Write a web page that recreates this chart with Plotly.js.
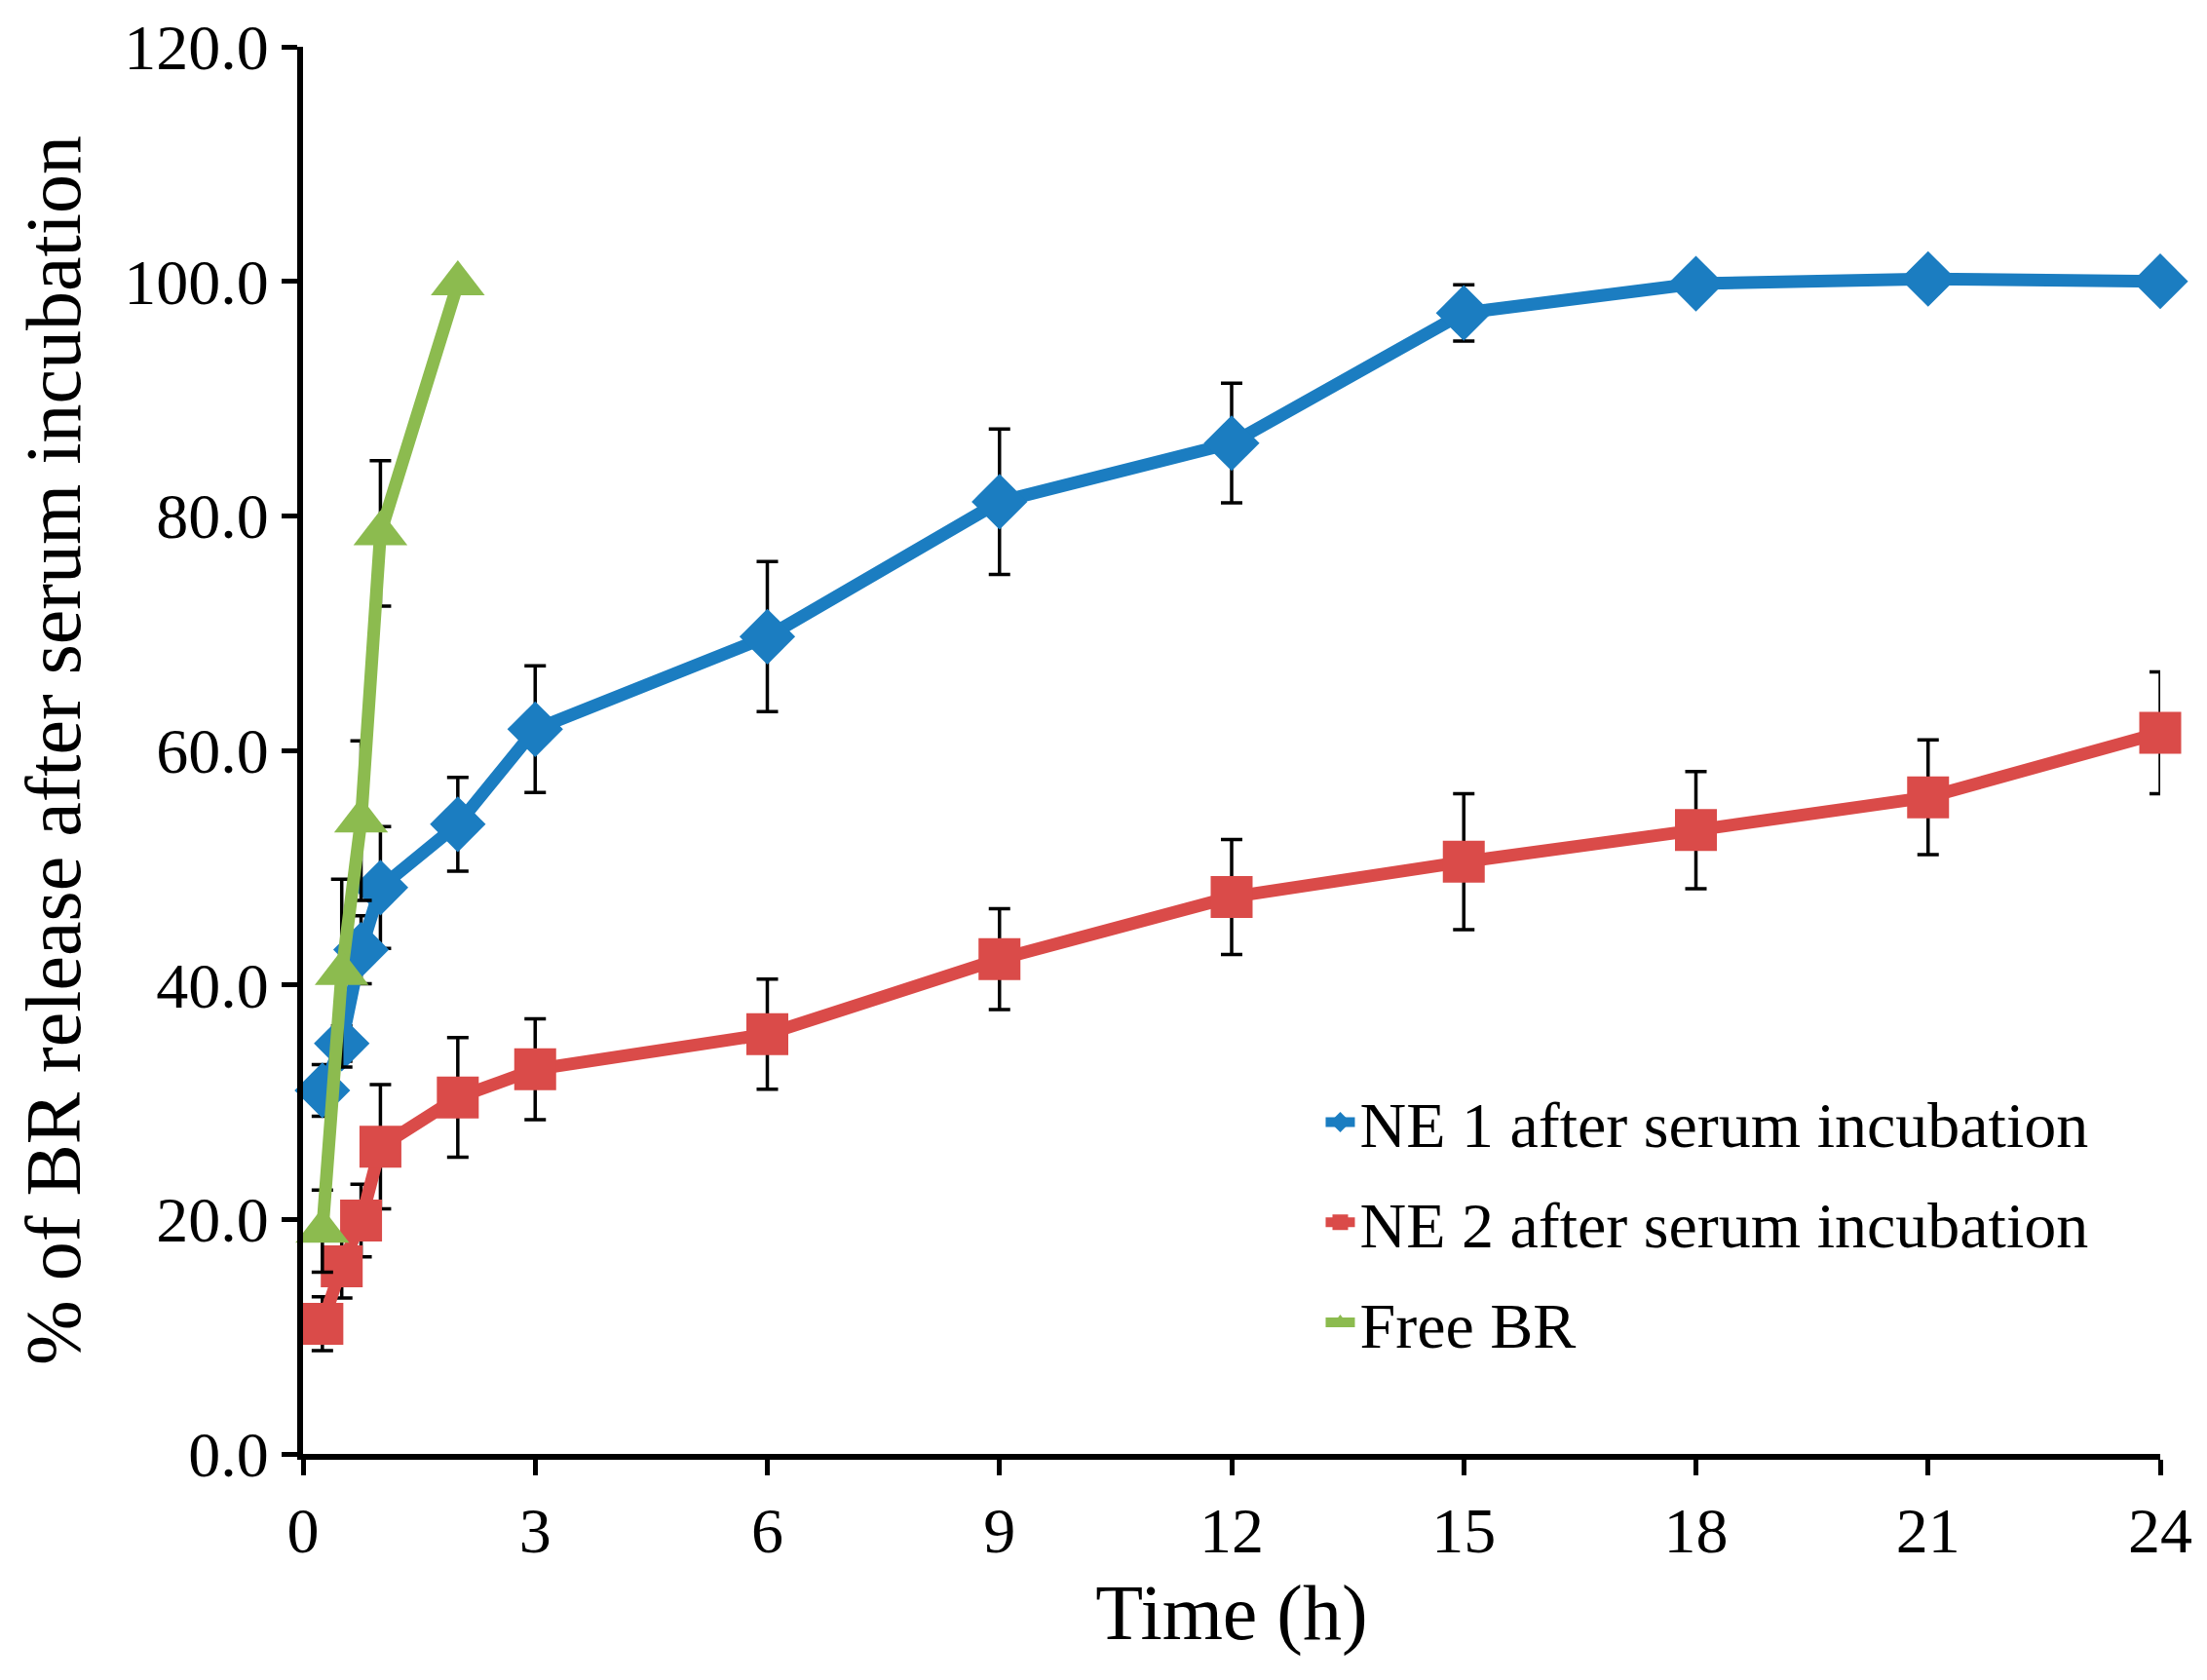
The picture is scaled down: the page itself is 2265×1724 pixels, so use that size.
<!DOCTYPE html>
<html>
<head>
<meta charset="utf-8">
<script src="https://cdn.plot.ly/plotly-3.0.1.min.js"></script>
<style>
  html, body { margin: 0; padding: 0; background: #fff; }
  #plot { width: 2265px; height: 1724px; }
</style>
</head>
<body>
<div id="plot"></div>
<script>
// sampling times (h)
const timeNE = [0.25, 0.5, 0.75, 1, 2, 3, 6, 9, 12, 15, 18, 21, 24];
const timeFree = [0.25, 0.5, 0.75, 1, 2];

// % of BR released
const ne1 = [31.0, 35.0, 43.0, 48.3, 53.7, 61.8, 69.7, 81.2, 86.2, 97.3, 99.8, 100.2, 100.0];
const ne1Err = [2.2, 1.5, 2.9, 5.2, 4.0, 5.4, 6.4, 6.2, 5.1, 2.4, 0.4, 0.3, 0.3];

const ne2 = [11.1, 16.0, 19.9, 26.2, 30.4, 32.8, 35.8, 42.2, 47.5, 50.5, 53.2, 56.0, 61.5];
const ne2Err = [2.3, 2.7, 3.1, 5.3, 5.1, 4.3, 4.7, 4.3, 4.9, 5.8, 5.0, 4.9, 5.2];

const free = [19.0, 41.0, 54.0, 78.5, 99.8];
const freeErr = [3.5, 8.0, 6.8, 6.2, 0.5];

const names = ['NE 1 after serum incubation', 'NE 2 after serum incubation', 'Free BR'];
const colors = ['#1b7dc1', '#da4b49', '#8cbb4f'];

const font = 'Liberation Serif, Times New Roman, serif';

function errBars(arr) {
  return { type: 'data', array: arr, visible: true, color: '#000', thickness: 3.5, width: 11 };
}

const traces = [
  {
    x: timeNE, y: ne1, name: names[0], legendgroup: 'a', type: 'scatter', mode: 'lines+markers',
    line: { color: colors[0], width: 13 },
    marker: { symbol: 'diamond', size: 44, color: colors[0] },
    error_y: errBars(ne1Err), cliponaxis: false
  },
  {
    x: timeNE, y: ne2, name: names[1], legendgroup: 'b', type: 'scatter', mode: 'lines+markers',
    line: { color: colors[1], width: 13 },
    marker: { symbol: 'square', size: 43, color: colors[1] },
    error_y: errBars(ne2Err), cliponaxis: false
  },
  {
    x: timeFree, y: free, name: names[2], legendgroup: 'c', type: 'scatter', mode: 'lines+markers',
    line: { color: colors[2], width: 13 },
    marker: { symbol: 'triangle-up', size: 48, color: colors[2] },
    error_y: errBars(freeErr), cliponaxis: false
  }
];

const layout = {
  width: 2265,
  height: 1724,
  margin: { l: 311, r: 48, t: 48, b: 232 },
  paper_bgcolor: '#fff',
  plot_bgcolor: '#fff',
  font: { family: font, color: '#000', size: 66 },
  showlegend: true,
  legend: {
    x: 0.548, y: 0.27, xanchor: 'left', yanchor: 'top',
    bgcolor: 'rgba(0,0,0,0)',
    font: { family: font, size: 66, color: '#000' },
    tracegroupgap: 14,
    itemwidth: 30
  },
  xaxis: {
    range: [0, 24],
    tickmode: 'linear', tick0: 0, dtick: 3,
    showgrid: false, zeroline: false,
    showline: true, linecolor: '#000', linewidth: 6,
    ticks: 'outside', ticklen: 16, tickwidth: 5, tickcolor: '#000',
    tickfont: { family: font, size: 66 },
    title: { text: 'Time (h)', font: { family: font, size: 80 }, standoff: 22 }
  },
  yaxis: {
    range: [0, 120],
    tickmode: 'linear', tick0: 0, dtick: 20, tickformat: '.1f',
    showgrid: false, zeroline: false,
    showline: true, linecolor: '#000', linewidth: 6,
    ticks: 'outside', ticklen: 16, tickwidth: 5, tickcolor: '#000',
    tickfont: { family: font, size: 66 },
    title: { text: '% of BR release after serum incubation', font: { family: font, size: 80 }, standoff: 20 }
  }
};

Plotly.newPlot('plot', traces, layout, { displayModeBar: false, staticPlot: true });
</script>
</body>
</html>
